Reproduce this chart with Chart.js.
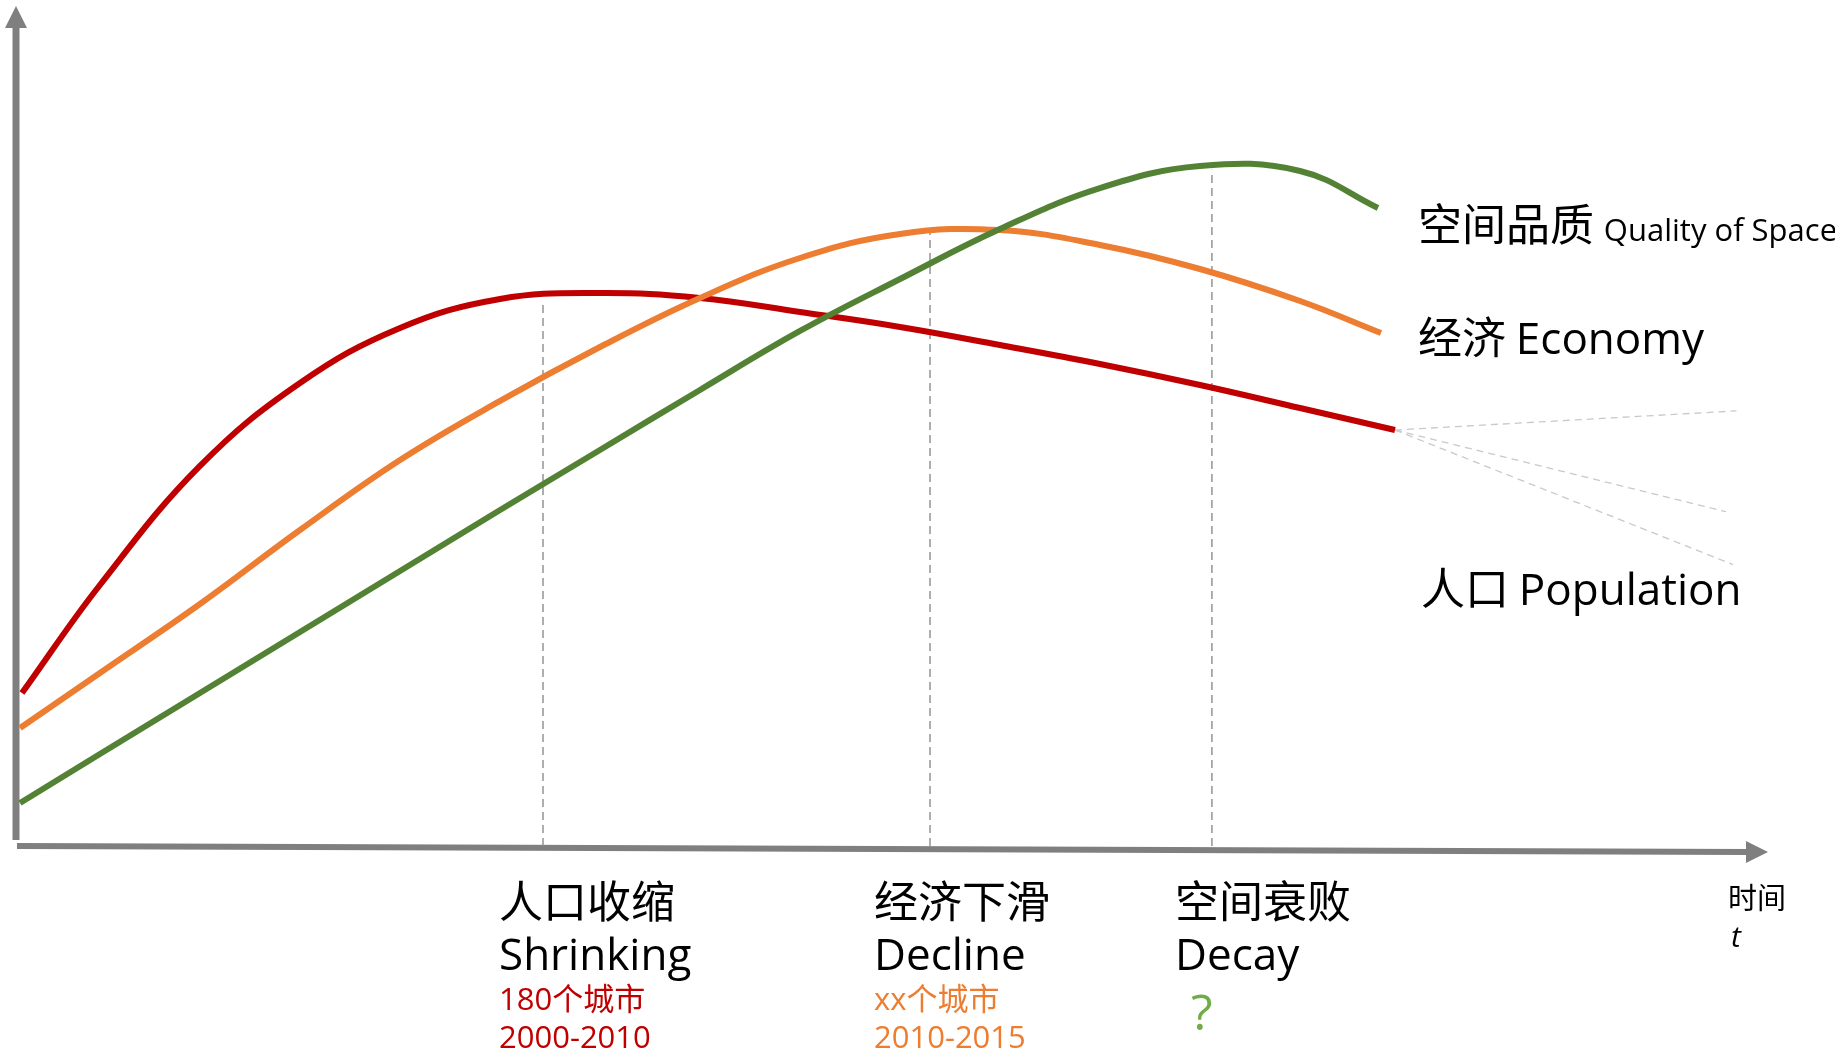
<!DOCTYPE html>
<html><head><meta charset="utf-8">
<script src="https://cdn.jsdelivr.net/npm/chart.js@4/dist/chart.umd.min.js"></script>
<style>html,body{margin:0;padding:0;background:#fff;overflow:hidden}#wrap{width:1835px;height:1053px;position:relative}</style>
</head><body><div id="wrap"><canvas id="c" width="1835" height="1053"></canvas></div>
<script>
// ---- data (time t on x, level on y; 0..100 units) ----
const tGrid  = [4.79, 10.50, 16.21, 21.92, 27.63, 33.33, 39.04, 44.75, 50.46, 56.16, 61.87, 67.58, 73.29];
const popX   = [0.34].concat(tGrid, [78.71]);
const popY   = [18.21, 31.07, 45.24, 55.12, 61.67, 65.12, 65.83, 65.24, 63.57, 61.79, 59.64, 57.38, 54.88, 52.14, 49.52];
const ecoX   = [0.23].concat(tGrid, [77.91]);
const ecoY   = [14.05, 20.60, 28.81, 37.62, 45.95, 52.98, 59.40, 65.24, 70.00, 72.86, 73.33, 71.55, 68.69, 64.88, 61.07];
const spaceX = [0.23].concat(tGrid, [77.74]);
const spaceY = [5.12, 10.95, 18.21, 25.48, 32.74, 40.00, 47.14, 54.29, 61.31, 67.50, 73.45, 78.33, 80.95, 80.36, 75.95];
// future population scenarios (from last population point)
const futureX = [98.2, 97.6, 98.0];
const futureY = [51.8, 39.8, 33.5];
// stage markers
const stageX   = [30.08, 52.17, 68.26];
const stageTop = [64.6, 73.6, 80.5];
const stageCN  = ['人口收缩', '经济下滑', '空间衰败'];
const stageEN  = ['Shrinking', 'Decline', 'Decay'];
const stageCount = ['180个城市', 'xx个城市', '?'];
const stageYears = ['2000-2010', '2010-2015', ''];
const seriesCN = ['人口', '经济', '空间品质'];
const seriesEN = ['Population', 'Economy', 'Quality of Space'];

const RED = '#C00000', ORANGE = '#ED7D31', GREEN = '#548235', LGREEN = '#70AD47', AXIS = '#7F7F7F';
const CJK = '"Noto Sans CJK SC", sans-serif';
const LAT = '"Open Sans", "Noto Sans CJK SC", sans-serif';

function pts(xs, ys) { return xs.map((x, i) => ({x: x, y: ys[i]})); }

const datasets = [];
// stage dashed verticals
stageX.forEach((x, i) => datasets.push({
  data: [{x: x, y: 0}, {x: x, y: stageTop[i]}], borderColor: '#8C8C8C', borderWidth: 1.4,
  borderDash: [8, 5], pointRadius: 0, tension: 0, order: 5
}));
// future fan lines
const lastX = popX[popX.length - 1], lastY = popY[popY.length - 1];
futureX.forEach((x, i) => datasets.push({
  data: [{x: lastX, y: lastY}, {x: x, y: futureY[i]}], borderColor: '#C9C9C9', borderWidth: 1.3,
  borderDash: [7, 5], pointRadius: 0, tension: 0, order: 5
}));
const curveStyle = {borderWidth: 6, pointRadius: 0, tension: 0.4, borderCapStyle: 'butt', order: 1};
datasets.push(Object.assign({label: seriesEN[2], data: pts(spaceX, spaceY), borderColor: GREEN}, curveStyle));
datasets.push(Object.assign({label: seriesEN[1], data: pts(ecoX, ecoY), borderColor: ORANGE}, curveStyle));
datasets.push(Object.assign({label: seriesEN[0], data: pts(popX, popY), borderColor: RED}, curveStyle));

const decor = {
  id: 'decor',
  beforeDatasetsDraw(chart) {
    const ctx = chart.ctx, a = chart.chartArea;
    ctx.save();
    ctx.fillStyle = AXIS; ctx.strokeStyle = AXIS; ctx.lineCap = 'butt';
    // y axis
    ctx.lineWidth = 7;
    ctx.beginPath(); ctx.moveTo(a.left, a.bottom - 6); ctx.lineTo(a.left, a.top + 20); ctx.stroke();
    ctx.beginPath(); ctx.moveTo(a.left, a.top); ctx.lineTo(a.left - 11, a.top + 22); ctx.lineTo(a.left + 11, a.top + 22); ctx.closePath(); ctx.fill();
    // x axis (slightly tilted like the original)
    ctx.lineWidth = 6;
    ctx.beginPath(); ctx.moveTo(a.left + 1, a.bottom); ctx.lineTo(a.right - 20, a.bottom + 6); ctx.stroke();
    ctx.beginPath(); ctx.moveTo(a.right, a.bottom + 6); ctx.lineTo(a.right - 22, a.bottom + 6 - 11); ctx.lineTo(a.right - 22, a.bottom + 6 + 11); ctx.closePath(); ctx.fill();
    ctx.restore();
  },
  afterDraw(chart) {
    const ctx = chart.ctx;
    ctx.save();
    ctx.textBaseline = 'alphabetic'; ctx.textAlign = 'left';
    function mixed(cn, en, x, y, cnSize, enSize) {
      ctx.fillStyle = '#000';
      ctx.font = cnSize + 'px ' + CJK; ctx.fillText(cn, x, y);
      const w = ctx.measureText(cn + ' ').width;
      ctx.font = enSize + 'px ' + LAT; ctx.fillText(en, x + w, y);
    }
    // series labels on the right
    mixed(seriesCN[2], seriesEN[2], 1418, 241, 44, 31);
    mixed(seriesCN[1], seriesEN[1], 1418, 354, 44, 44);
    mixed(seriesCN[0], seriesEN[0], 1421, 605, 44, 44);
    // stage labels
    const stageLeft = [499, 874, 1175];
    const countColors = [RED, ORANGE, LGREEN];
    for (let i = 0; i < 3; i++) {
      const x = stageLeft[i];
      ctx.fillStyle = '#000';
      ctx.font = '44px ' + CJK; ctx.fillText(stageCN[i], x, 918);
      ctx.font = '44px ' + LAT; ctx.fillText(stageEN[i], x, 970);
      ctx.fillStyle = countColors[i];
      if (i < 2) {
        ctx.font = '31px ' + LAT; ctx.fillText(stageCount[i], x, 1010);
        ctx.fillText(stageYears[i], x, 1048);
      } else {
        ctx.font = '50px ' + LAT; ctx.fillText(stageCount[i], x + 16, 1030);
      }
    }
    // axis title
    ctx.fillStyle = '#000';
    ctx.font = '29px ' + CJK; ctx.fillText('时间', 1728, 909);
    ctx.font = 'italic 30px ' + LAT; ctx.fillText('t', 1731, 947);
    ctx.restore();
  }
};

new Chart(document.getElementById('c'), {
  type: 'line',
  data: {datasets: datasets},
  options: {
    responsive: false, animation: false, devicePixelRatio: 1,
    layout: {padding: {left: 16, right: 67, top: 6, bottom: 207}},
    plugins: {legend: {display: false}, tooltip: {enabled: false}},
    scales: {
      x: {type: 'linear', min: 0, max: 100, display: false},
      y: {type: 'linear', min: 0, max: 100, display: false}
    },
    elements: {line: {fill: false}}
  },
  plugins: [decor]
});
</script></body></html>
